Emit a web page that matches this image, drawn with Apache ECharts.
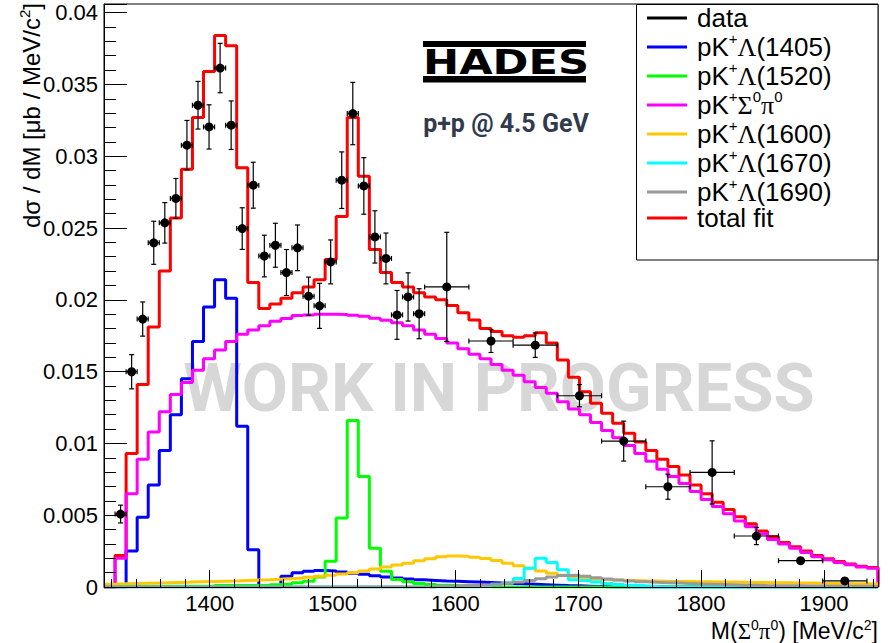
<!DOCTYPE html>
<html><head><meta charset="utf-8">
<script src="https://cdn.jsdelivr.net/npm/echarts@6/dist/echarts.min.js"></script>
<style>html,body{margin:0;padding:0;background:#fff}#c{width:888px;height:643px}</style>
</head><body><div id="c"></div>
<script>
// ---- binning of the fit histograms (MeV/c^2) ----
const binStart = 1314;
const binWidth = 9;

// ---- histogram contents, one value per 9 MeV bin (70 bins) ----
const totalFit = [0, 0.0022, 0.0093, 0.0141, 0.0181, 0.0220, 0.0257, 0.0291, 0.0327, 0.0359,
  0.0384, 0.0377, 0.0292, 0.0212, 0.0194, 0.0197, 0.0201, 0.0205, 0.0209, 0.0214,
  0.0228, 0.0258, 0.0327, 0.0286, 0.0235, 0.0219, 0.0212, 0.0209, 0.0205, 0.0202,
  0.0200, 0.0196, 0.0191, 0.0186, 0.0180, 0.0178, 0.0175, 0.0174, 0.0175, 0.0177,
  0.0170, 0.0158, 0.0146, 0.0136, 0.0128, 0.0121, 0.0114, 0.0107, 0.0101, 0.0095,
  0.0089, 0.0084, 0.0078, 0.0071, 0.0065, 0.0059, 0.0054, 0.0049, 0.0044, 0.0039,
  0.0035, 0.0031, 0.0028, 0.0025, 0.0022, 0.00197, 0.00177, 0.0016, 0.00145, 0.00135];

const lambda1405 = [0, 0, 0.0025, 0.00485, 0.0071, 0.0095, 0.0120, 0.0145, 0.0171, 0.0195,
  0.0214, 0.0201, 0.0112, 0.0026, 0, 0, 0.00075, 0.0010, 0.0011, 0.00115,
  0.00112, 0.00105, 0.00095, 0.00088, 0.00078, 0.0007, 0.00062, 0.00055, 0.0005, 0.00046,
  0.00042, 0.0004, 0.00037, 0.00034, 0.00031, 0.00028, 0.00025, 0.00022, 0.00019, 0.00016,
  0.00013, 0.0001, 0.00008, 0.00006, 0.00004, 0, 0, 0, 0, 0,
  0, 0, 0, 0, 0, 0, 0, 0, 0, 0,
  0, 0, 0, 0, 0, 0, 0, 0, 0, 0];

const lambda1520 = [0.00005, 0.00005, 0.00005, 0.00005, 0.00005, 0.00005, 0.00005, 0.00005, 0.00005, 0.00005,
  0.0001, 0.0001, 0.0001, 0.0001, 0.0001, 0.00015, 0.0002, 0.0003, 0.0004, 0.0007,
  0.0018, 0.0048, 0.0116, 0.0077, 0.0027, 0.0011, 0.00053, 0.00037, 0.00025, 0.00018,
  0.00013, 0.0001, 0.00008, 0.00006, 0.00005, 0, 0, 0, 0, 0,
  0, 0, 0, 0, 0, 0, 0, 0, 0, 0,
  0, 0, 0, 0, 0, 0, 0, 0, 0, 0,
  0, 0, 0, 0, 0, 0, 0, 0, 0, 0];

const sigmaPi = [0, 0.0020, 0.0065, 0.0089, 0.0108, 0.0122, 0.0134, 0.01425, 0.0151, 0.0159,
  0.0165, 0.0171, 0.0176, 0.0179, 0.0182, 0.0185, 0.0187, 0.0189, 0.01895, 0.0190,
  0.0190, 0.01898, 0.01892, 0.01885, 0.01872, 0.01858, 0.0184, 0.0182, 0.0179, 0.0176,
  0.0173, 0.0170, 0.0166, 0.0162, 0.0159, 0.0155, 0.0151, 0.01475, 0.0143, 0.0139,
  0.0135, 0.0129, 0.0124, 0.0120, 0.01145, 0.0109, 0.0104, 0.00985, 0.0093, 0.00875,
  0.0082, 0.0077, 0.0072, 0.00665, 0.0061, 0.0056, 0.0051, 0.0046, 0.0042, 0.0037,
  0.0033, 0.0030, 0.0027, 0.0024, 0.0021, 0.0019, 0.0017, 0.00155, 0.0014, 0.0013];

const lambda1600 = [0.0002, 0.00022, 0.00024, 0.00026, 0.00028, 0.0003, 0.00032, 0.00034, 0.00036, 0.00038,
  0.0004, 0.00042, 0.00045, 0.00048, 0.0005, 0.00054, 0.00058, 0.00062, 0.00068, 0.00074,
  0.00082, 0.0009, 0.001, 0.00112, 0.00126, 0.0014, 0.00153, 0.00166, 0.00182, 0.00197,
  0.0021, 0.00216, 0.00214, 0.00208, 0.00198, 0.00184, 0.00165, 0.00148, 0.0013, 0.00112,
  0.00095, 0.00082, 0.0007, 0.0006, 0.00054, 0.0005, 0.00047, 0.00045, 0.00043, 0.00042,
  0.0004, 0.00039, 0.00038, 0.00037, 0.00036, 0.00035, 0.00034, 0.00033, 0.00032, 0.00031,
  0.0003, 0.00029, 0.00028, 0.00027, 0.00026, 0.00025, 0.00024, 0.00023, 0.00022, 0.00021];

const lambda1670 = [0, 0, 0, 0, 0, 0, 0, 0, 0, 0,
  0, 0, 0, 0, 0, 0, 0, 0, 0, 0,
  0, 0, 0, 0, 0, 0, 0, 0, 0, 0,
  0, 0, 0, 0, 0.0001, 0.0002, 0.0003, 0.0006, 0.0013, 0.0020,
  0.0017, 0.0012, 0.0005, 0.00045, 0.00035, 0.00025, 0.00018, 0.00012, 0.00008, 0.00005,
  0, 0, 0, 0, 0, 0, 0, 0, 0, 0,
  0, 0, 0, 0, 0, 0, 0, 0, 0, 0];

const lambda1690 = [0, 0, 0, 0, 0, 0, 0, 0, 0, 0,
  0, 0, 0, 0, 0, 0, 0, 0, 0, 0,
  0, 0, 0, 0, 0, 0, 0, 0, 0, 0,
  0.00005, 0.00007, 0.0001, 0.00012, 0.00015, 0.0002, 0.00026, 0.00034, 0.00045, 0.00058,
  0.0007, 0.0008, 0.00082, 0.00075, 0.00065, 0.00055, 0.00048, 0.00042, 0.00037, 0.00033,
  0.0003, 0.00027, 0.00024, 0.00021, 0.00019, 0.00017, 0.00015, 0.00013, 0.00012, 0.0001,
  0.00009, 0.00008, 0.00008, 0.00007, 0.00007, 0.00006, 0.00006, 0.00005, 0.00005, 0.00004];

// ---- measured data points ----
const dataMass = [1327.5, 1336.5, 1345.5, 1354.5, 1363.5, 1372.5, 1381.5, 1390.5, 1399.5, 1408.5,
  1417.5, 1426.5, 1435.5, 1444.5, 1453.5, 1462.5, 1471.5, 1480.5, 1489.5, 1498.5,
  1507.5, 1516.5, 1525.5, 1534.5, 1543.5, 1552.5, 1561.5, 1570.5,
  1593, 1629, 1665, 1701, 1737, 1773, 1809, 1845, 1881, 1917];
const dataHalfWidth = [4.5, 4.5, 4.5, 4.5, 4.5, 4.5, 4.5, 4.5, 4.5, 4.5,
  4.5, 4.5, 4.5, 4.5, 4.5, 4.5, 4.5, 4.5, 4.5, 4.5,
  4.5, 4.5, 4.5, 4.5, 4.5, 4.5, 4.5, 4.5,
  18, 18, 18, 18, 18, 18, 18, 18, 18, 18];
const dataValue = [0.00508, 0.01499, 0.01866, 0.02397, 0.02536, 0.02706, 0.03077, 0.03355, 0.03204, 0.03614,
  0.03216, 0.02496, 0.02798, 0.02305, 0.0238, 0.0219, 0.02362, 0.02025, 0.01958, 0.02264,
  0.02833, 0.03297, 0.02793, 0.02438, 0.02288, 0.01895, 0.0202, 0.01903,
  0.0209, 0.01713, 0.01684, 0.01332, 0.01016, 0.00698, 0.00798, 0.00355, 0.00183, 0.00042];
const dataError = [0.00062, 0.00119, 0.00119, 0.0015, 0.00141, 0.00139, 0.00172, 0.00166, 0.00154, 0.00172,
  0.00169, 0.00145, 0.0016, 0.00145, 0.00153, 0.0016, 0.00159, 0.00133, 0.00157, 0.00153,
  0.00197, 0.00217, 0.00197, 0.00182, 0.00177, 0.0017, 0.00168, 0.00174,
  0.0038, 0.0008, 0.00085, 0.00077, 0.00139, 0.00087, 0.0022, 0.0006, 0.0002, 0.0001];

// ---- legend labels ----
const legendNames = ['data', 'pK+Λ(1405)', 'pK+Λ(1520)', 'pK+Σ0π0', 'pK+Λ(1600)', 'pK+Λ(1670)', 'pK+Λ(1690)', 'total fit'];
const legendRich = {
  'data': '{sp| }{a|data}',
  'pK+Λ(1405)': '{sp| }{a|pK}{s|+}{g|Λ}{a|(1405)}',
  'pK+Λ(1520)': '{sp| }{a|pK}{s|+}{g|Λ}{a|(1520)}',
  'pK+Σ0π0': '{sp| }{a|pK}{s|+}{g|Σ}{s|0}{g|π}{s|0}',
  'pK+Λ(1600)': '{sp| }{a|pK}{s|+}{g|Λ}{a|(1600)}',
  'pK+Λ(1670)': '{sp| }{a|pK}{s|+}{g|Λ}{a|(1670)}',
  'pK+Λ(1690)': '{sp| }{a|pK}{s|+}{g|Λ}{a|(1690)}',
  'total fit': '{sp| }{a|total fit}'
};

const SANS = 'Liberation Sans, Arial, Helvetica, sans-serif';
const SERIF = 'Liberation Serif, Times New Roman, serif';

function stepLine(values) {
  const pts = [];
  for (let k = 0; k < values.length; k++) {
    const lo = binStart + k * binWidth;
    pts.push([lo, values[k]]);
    pts.push([lo + binWidth, values[k]]);
  }
  pts.push([binStart + values.length * binWidth, 0]);
  return pts;
}

function histSeries(name, values, color) {
  return {
    name: name, type: 'line', data: stepLine(values),
    symbol: 'none', showSymbol: false, silent: true, animation: false,
    clip: true,
    itemStyle: { color: color },
    lineStyle: { color: color, width: 3 },
    emphasis: { disabled: true }
  };
}

const dataPoints = dataMass.map((m, i) => [m, dataValue[i], dataHalfWidth[i], dataError[i]]);

const chart = echarts.init(document.getElementById('c'), null, { renderer: 'svg' });

const option = {
  animation: false,
  backgroundColor: '#fff',
  grid: { left: 104, top: 4, right: 10, bottom: 56, show: true, borderColor: '#000', borderWidth: 1, containLabel: false },
  xAxis: {
    type: 'value', min: 1314, max: 1944, splitNumber: 6, z: 8,
    axisLine: { show: true, onZero: false, lineStyle: { color: '#000', width: 1 } },
    axisTick: { show: true, inside: true, length: 17, lineStyle: { color: '#000', width: 1 } },
    minorTick: { show: true, splitNumber: 5, length: 8, lineStyle: { color: '#000', width: 1 } },
    axisLabel: { show: true, showMinLabel: false, showMaxLabel: false, margin: 5, fontSize: 22, fontFamily: SANS, color: '#000',
      formatter: function (v) { return String(Math.round(v)); } },
    splitLine: { show: false }, minorSplitLine: { show: false }
  },
  yAxis: {
    type: 'value', min: 0, max: 0.0406, interval: 0.005, z: 8,
    axisLine: { show: true, onZero: false, lineStyle: { color: '#000', width: 1 } },
    axisTick: { show: true, inside: true, length: 23, lineStyle: { color: '#000', width: 1 } },
    minorTick: { show: true, splitNumber: 5, length: 12, lineStyle: { color: '#000', width: 1 } },
    axisLabel: { show: true, showMaxLabel: false, margin: 6, fontSize: 22, fontFamily: SANS, color: '#000' },
    splitLine: { show: false }, minorSplitLine: { show: false }
  },
  legend: {
    orient: 'vertical', left: 647, top: 5, padding: 0, itemGap: 0,
    itemWidth: 40, itemHeight: 3, icon: 'rect', selectedMode: false, z: 10,
    data: legendNames,
    formatter: function (name) { return legendRich[name]; },
    textStyle: {
      color: '#000',
      rich: {
        a: { fontFamily: SANS, fontSize: 26, lineHeight: 32, color: '#000' },
        g: { fontFamily: SERIF, fontSize: 26, lineHeight: 32, color: '#000' },
        s: { fontFamily: SANS, fontSize: 15, lineHeight: 22, verticalAlign: 'top', color: '#000' },
        sp: { fontSize: 10, width: 5, lineHeight: 32 }
      }
    }
  },
  graphic: [
    { type: 'text', z: 1, silent: true, x: 499, y: 388,
      style: { text: 'WORK IN PROGRESS', textAlign: 'center', textVerticalAlign: 'middle', fill: '#d7d7d7',
        font: 'bold 67px Roboto, Liberation Sans, sans-serif' } },
    { type: 'rect', z: 9, silent: true, shape: { x: 636.5, y: 4.5, width: 241.5, height: 255.5 },
      style: { fill: '#fff', stroke: '#000', lineWidth: 1 } },
    { type: 'rect', z: 9, silent: true, shape: { x: 423, y: 41, width: 163, height: 6 }, style: { fill: '#000' } },
    { type: 'rect', z: 9, silent: true, shape: { x: 423, y: 76, width: 163, height: 6.5 }, style: { fill: '#000' } },
    { type: 'text', z: 9, silent: true, x: 423, y: 62.5, scaleX: 1.27, scaleY: 1,
      style: { text: 'HADES', x: 0, y: 0, textAlign: 'left', textVerticalAlign: 'middle', fill: '#000',
        font: 'bold 34px DejaVu Sans, Liberation Sans, Arial, sans-serif' } },
    { type: 'text', z: 9, silent: true, x: 506, y: 123,
      style: { text: 'p+p @ 4.5 GeV', textAlign: 'center', textVerticalAlign: 'middle', fill: '#323b4d',
        font: 'bold 25px Roboto, Liberation Sans, sans-serif' } },
    { type: 'text', z: 9, silent: true, x: 31, y: 3, rotation: Math.PI / 2,
      style: { text: '{a|dσ / dM [μb / MeV/c}{s|2}{a|]}', textAlign: 'right', textVerticalAlign: 'middle', fill: '#000',
        rich: {
          a: { fontFamily: SANS, fontSize: 24, lineHeight: 28, fill: '#000' },
          s: { fontFamily: SANS, fontSize: 15, lineHeight: 20, verticalAlign: 'top', fill: '#000' }
        } } },
    { type: 'text', z: 9, silent: true, x: 878, y: 631,
      style: { text: '{a|M(}{g|Σ}{s|0}{g|π}{s|0}{a|) [MeV/c}{s|2}{a|]}', textAlign: 'right', textVerticalAlign: 'middle', fill: '#000',
        rich: {
          a: { fontFamily: SANS, fontSize: 23, lineHeight: 26, fill: '#000' },
          g: { fontFamily: SERIF, fontSize: 23, lineHeight: 26, fill: '#000' },
          s: { fontFamily: SANS, fontSize: 14, lineHeight: 18, verticalAlign: 'top', fill: '#000' }
        } } }
  ],
  series: [
    histSeries('total fit', totalFit, '#ff0000'),
    histSeries('pK+Λ(1405)', lambda1405, '#0000ff'),
    histSeries('pK+Λ(1520)', lambda1520, '#00ff00'),
    histSeries('pK+Σ0π0', sigmaPi, '#ff00ff'),
    histSeries('pK+Λ(1600)', lambda1600, '#ffc800'),
    histSeries('pK+Λ(1670)', lambda1670, '#00ffff'),
    histSeries('pK+Λ(1690)', lambda1690, '#999999'),
    {
      name: 'data', type: 'custom', data: dataPoints, silent: true, animation: false, z: 5,
      itemStyle: { color: '#000' },
      encode: { x: 0, y: 1 },
      renderItem: function (params, api) {
        const x = api.value(0), y = api.value(1), ex = api.value(2), ey = api.value(3);
        const c = api.coord([x, y]);
        const l = api.coord([x - ex, y]);
        const r = api.coord([x + ex, y]);
        const t = api.coord([x, y + ey]);
        const b = api.coord([x, y - ey]);
        const cap = 2.5;
        const st = { stroke: '#000', lineWidth: 1.2, fill: null };
        return {
          type: 'group',
          children: [
            { type: 'line', shape: { x1: l[0], y1: c[1], x2: r[0], y2: c[1] }, style: st },
            { type: 'line', shape: { x1: c[0], y1: t[1], x2: c[0], y2: b[1] }, style: st },
            { type: 'line', shape: { x1: c[0] - cap, y1: t[1], x2: c[0] + cap, y2: t[1] }, style: st },
            { type: 'line', shape: { x1: c[0] - cap, y1: b[1], x2: c[0] + cap, y2: b[1] }, style: st },
            { type: 'line', shape: { x1: l[0], y1: c[1] - cap, x2: l[0], y2: c[1] + cap }, style: st },
            { type: 'line', shape: { x1: r[0], y1: c[1] - cap, x2: r[0], y2: c[1] + cap }, style: st },
            { type: 'circle', shape: { cx: c[0], cy: c[1], r: 4.5 }, style: { fill: '#000' } }
          ]
        };
      }
    }
  ]
};
chart.setOption(option);
</script></body></html>
